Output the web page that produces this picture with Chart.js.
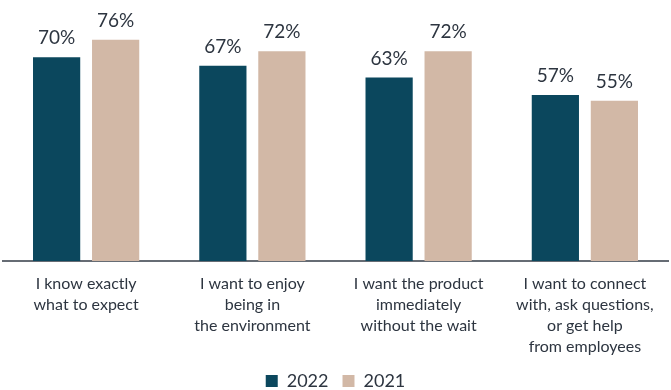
<!DOCTYPE html>
<html>
<head>
<meta charset="utf-8">
<script src="https://cdn.jsdelivr.net/npm/chart.js@4"></script>
<style>
    html, body { margin: 0; padding: 0; background: #ffffff; }
    #wrap { width: 671px; height: 390px; }
</style>
</head>
<body>
<div id="wrap"><canvas id="grafic-reasons"></canvas></div>
<script>
const categories = [
    ['I know exactly', 'what to expect'],
    ['I want to enjoy', 'being in', 'the environment'],
    ['I want the product', 'immediately', 'without the wait'],
    ['I want to connect', 'with, ask questions,', 'or get help', 'from employees']
];
const seriesNames = ['2022', '2021'];
const values2022 = [70, 67, 63, 57];
const values2021 = [76, 72, 72, 55];

const colorDark = '#0b475d';
const colorBeige = '#d2b8a6';
const textColor = '#2d3540';

/* Labels above bars */
const barLabels = {
    id: 'barLabels',
    afterDatasetsDraw(chart) {
        const ctx = chart.ctx;
        ctx.save();
        ctx.font = '19px Lato';
        ctx.fillStyle = textColor;
        ctx.textAlign = 'center';
        ctx.textBaseline = 'alphabetic';
        chart.data.datasets.forEach(function (ds, i) {
            const meta = chart.getDatasetMeta(i);
            meta.data.forEach(function (bar, j) {
                ctx.fillText(ds.data[j] + '%', bar.x, bar.y - 13);
            });
        });
        ctx.restore();
    }
};

createChart();

function createChart() {
    const ctx = document.getElementById('grafic-reasons').getContext('2d');

    const chart = new Chart(ctx, {
        type: 'bar',
        data: {
            labels: categories,
            datasets: [{
                label: seriesNames[0],
                data: values2022,
                backgroundColor: colorDark,
                borderWidth: 0
            }, {
                label: seriesNames[1],
                data: values2021,
                backgroundColor: colorBeige,
                borderWidth: 0
            }]
        },
        options: {
            responsive: true,
            maintainAspectRatio: false,
            animation: false,
            categoryPercentage: 0.71,
            barPercentage: 0.8,
            layout: {
                padding: { top: 28, left: 3, right: 3, bottom: -10 }
            },
            scales: {
                x: {
                    grid: { display: false, drawTicks: false },
                    border: { display: true, color: '#666c74', width: 2 },
                    ticks: {
                        color: textColor,
                        font: { family: 'Lato', size: 16, lineHeight: 1.3125 },
                        padding: 12,
                        maxRotation: 0,
                        autoSkip: false
                    },
                    // pull the legend a bit closer to the labels
                    afterFit: function (scale) {
                        scale.height -= 11;
                    }
                },
                y: {
                    display: false,
                    min: 0,
                    max: 80
                }
            },
            plugins: {
                legend: {
                    position: 'bottom',
                    labels: {
                        color: textColor,
                        font: { family: 'Lato', size: 18 },
                        boxWidth: 12,
                        boxHeight: 12,
                        padding: 14
                    }
                },
                tooltip: { enabled: false }
            }
        },
        plugins: [barLabels]
    });
}
</script>
</body>
</html>
